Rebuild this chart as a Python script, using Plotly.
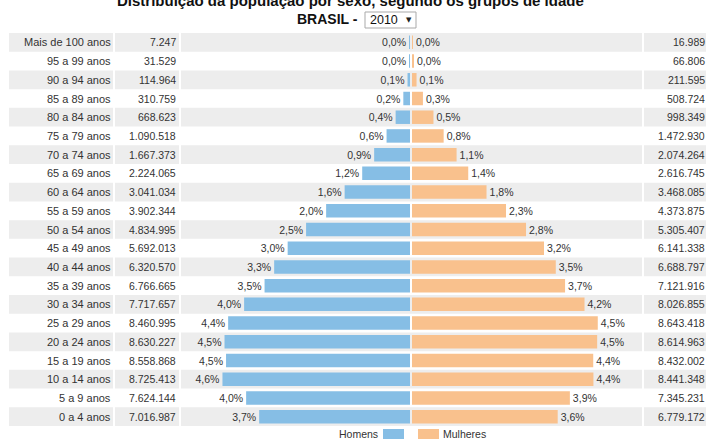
import plotly.graph_objects as go

W, H = 707, 439

faixas = ["Mais de 100 anos", "95 a 99 anos", "90 a 94 anos", "85 a 89 anos", "80 a 84 anos",
          "75 a 79 anos", "70 a 74 anos", "65 a 69 anos", "60 a 64 anos", "55 a 59 anos",
          "50 a 54 anos", "45 a 49 anos", "40 a 44 anos", "35 a 39 anos", "30 a 34 anos",
          "25 a 29 anos", "20 a 24 anos", "15 a 19 anos", "10 a 14 anos", "5 a 9 anos", "0 a 4 anos"]
homens = [7247, 31529, 114964, 310759, 668623, 1090518, 1667373, 2224065, 3041034, 3902344,
          4834995, 5692013, 6320570, 6766665, 7717657, 8460995, 8630227, 8558868, 8725413,
          7624144, 7016987]
mulheres = [16989, 66806, 211595, 508724, 998349, 1472930, 2074264, 2616745, 3468085, 4373875,
            5305407, 6141338, 6688797, 7121916, 8026855, 8643418, 8614963, 8432002, 8441348,
            7345231, 6779172]
titulo = "Distribuição da população por sexo, segundo os grupos de idade"
local = "BRASIL - "
ano = "2010"

total = sum(homens) + sum(mulheres)
pct_h = [v / total * 100 for v in homens]
pct_m = [v / total * 100 for v in mulheres]


def fmt_int(v):
    return f"{v:,}".replace(",", ".")


def fmt_pct(p):
    return f"{p:.1f}%".replace(".", ",")


def px(x):
    return x / W


def py(y):
    return (H - y) / H


FONT = "Liberation Sans, Arial, sans-serif"
BLUE = "#86bee5"
ORANGE = "#f9c18d"
GRAY = "#ededed"
TXT = "#333333"
FS = 10.5

fig = go.Figure()
fig.add_trace(go.Bar(
    y=faixas, x=pct_h, orientation="h", xaxis="x", yaxis="y",
    marker=dict(color=BLUE, line=dict(width=0)), width=0.72,
    text=[fmt_pct(p) for p in pct_h], textposition="outside", cliponaxis=False,
    constraintext="none", textfont=dict(family=FONT, size=FS, color=TXT),
    name="Homens", showlegend=False, hoverinfo="skip"))
fig.add_trace(go.Bar(
    y=faixas, x=pct_m, orientation="h", xaxis="x2", yaxis="y",
    marker=dict(color=ORANGE, line=dict(width=0)), width=0.72,
    text=[fmt_pct(p) for p in pct_m], textposition="outside", cliponaxis=False,
    constraintext="none", textfont=dict(family=FONT, size=FS, color=TXT),
    name="Mulheres", showlegend=False, hoverinfo="skip"))

shapes = []
annotations = []
n = len(faixas)
for i in range(n):
    if i % 2 == 0:
        for x0, x1 in [(9, 113), (115, 179), (181, 642), (644, 706)]:
            shapes.append(dict(type="rect", xref="paper", yref="y", x0=px(x0), x1=px(x1),
                               y0=i - 0.5, y1=i + 0.5, fillcolor=GRAY, line=dict(width=0),
                               layer="below"))
    annotations.append(dict(xref="paper", yref="y", x=px(113), y=faixas[i], text=faixas[i],
                            xanchor="right", yanchor="middle", showarrow=False,
                            font=dict(family=FONT, size=11, color=TXT)))
    annotations.append(dict(xref="paper", yref="y", x=px(178), y=faixas[i], text=fmt_int(homens[i]),
                            xanchor="right", yanchor="middle", showarrow=False,
                            font=dict(family=FONT, size=FS, color=TXT)))
    annotations.append(dict(xref="paper", yref="y", x=px(707), y=faixas[i], text=fmt_int(mulheres[i]),
                            xanchor="right", yanchor="middle", showarrow=False,
                            font=dict(family=FONT, size=FS, color=TXT)))

# title (partially cut at top)
annotations.append(dict(xref="paper", yref="paper", x=px(350), y=py(1), text=f"<b>{titulo}</b>",
                        xanchor="center", yanchor="middle", showarrow=False,
                        font=dict(family=FONT, size=15, color="#111111")))
annotations.append(dict(xref="paper", yref="paper", x=px(363), y=py(19), text=f"<b>{local}</b>",
                        xanchor="right", yanchor="middle", showarrow=False,
                        font=dict(family=FONT, size=14, color="#111111")))
# dropdown box
shapes.append(dict(type="rect", xref="paper", yref="paper", x0=px(365), x1=px(416),
                   y0=py(28), y1=py(12), fillcolor="white", line=dict(color="#a9a9a9", width=1)))
annotations.append(dict(xref="paper", yref="paper", x=px(368), y=py(20), text=ano,
                        xanchor="left", yanchor="middle", showarrow=False,
                        font=dict(family=FONT, size=12.5, color="#111111")))
annotations.append(dict(xref="paper", yref="paper", x=px(409), y=py(20), text="▼",
                        xanchor="center", yanchor="middle", showarrow=False,
                        font=dict(family="DejaVu Sans", size=7, color="#222222")))

# legend
shapes.append(dict(type="rect", xref="paper", yref="paper", x0=px(383), x1=px(404),
                   y0=py(446), y1=py(429), fillcolor=BLUE, line=dict(width=0)))
shapes.append(dict(type="rect", xref="paper", yref="paper", x0=px(418), x1=px(439),
                   y0=py(446), y1=py(429), fillcolor=ORANGE, line=dict(width=0)))
annotations.append(dict(xref="paper", yref="paper", x=px(380), y=py(434), text="Homens",
                        xanchor="right", yanchor="middle", showarrow=False,
                        font=dict(family=FONT, size=FS, color=TXT)))
annotations.append(dict(xref="paper", yref="paper", x=px(441), y=py(434), text="Mulheres",
                        xanchor="left", yanchor="middle", showarrow=False,
                        font=dict(family=FONT, size=FS, color=TXT)))

XMAX = 5.0
fig.update_layout(
    width=W, height=H, margin=dict(l=0, r=0, t=0, b=0),
    paper_bgcolor="white", plot_bgcolor="rgba(0,0,0,0)",
    barmode="overlay", showlegend=False,
    xaxis=dict(domain=[px(410 - 41 * XMAX), px(410)], range=[XMAX, 0], visible=False, fixedrange=True),
    xaxis2=dict(domain=[px(412), px(412 + 41 * XMAX)], range=[0, XMAX], visible=False, fixedrange=True,
                anchor="y"),
    yaxis=dict(domain=[py(426), py(33)], type="category", categoryorder="array", categoryarray=faixas,
               range=[n - 0.5, -0.5], visible=False, fixedrange=True),
    shapes=shapes, annotations=annotations,
)

fig.write_html("out.html", config={"displayModeBar": False},
               post_script="document.body.style.margin='0';document.body.style.overflow='hidden';")
